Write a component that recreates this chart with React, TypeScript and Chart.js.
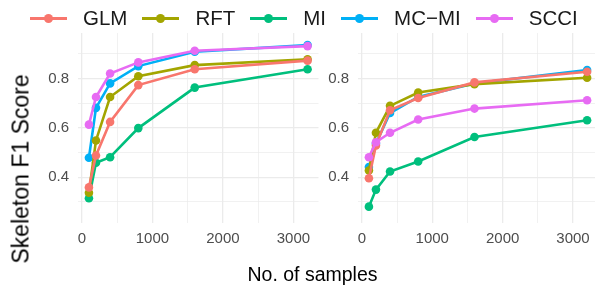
import { useEffect, useRef } from "react";
import { Chart, registerables } from "chart.js";

Chart.register(...registerables);

// ---- data ----
const SAMPLES = [100, 200, 400, 800, 1600, 3200];
const SERIES_NAMES = ["GLM", "RFT", "MI", "MC\u2212MI", "SCCI"];
const SERIES_COLORS = ["#F8766D", "#A3A500", "#00BF7D", "#00B0F6", "#E76BF3"];
// lower order is drawn on top
const DRAW_ORDER = [1, 2, 4, 3, 0];

const LEFT_GLM = [0.359, 0.488, 0.624, 0.773, 0.837, 0.872];
const LEFT_RFT = [0.337, 0.549, 0.725, 0.809, 0.854, 0.878];
const LEFT_MI = [0.315, 0.459, 0.481, 0.599, 0.763, 0.837];
const LEFT_MCMI = [0.479, 0.681, 0.78, 0.85, 0.908, 0.935];
const LEFT_SCCI = [0.613, 0.725, 0.82, 0.865, 0.912, 0.931];

const RIGHT_GLM = [0.396, 0.529, 0.671, 0.721, 0.784, 0.827];
const RIGHT_RFT = [0.427, 0.58, 0.689, 0.743, 0.777, 0.803];
const RIGHT_MI = [0.281, 0.35, 0.423, 0.464, 0.563, 0.631];
const RIGHT_MCMI = [0.441, 0.536, 0.66, 0.725, 0.78, 0.834];
const RIGHT_SCCI = [0.481, 0.542, 0.58, 0.634, 0.678, 0.712];

const LEFT_SERIES = [LEFT_GLM, LEFT_RFT, LEFT_MI, LEFT_MCMI, LEFT_SCCI];
const RIGHT_SERIES = [RIGHT_GLM, RIGHT_RFT, RIGHT_MI, RIGHT_MCMI, RIGHT_SCCI];

// axis ticks (major ticks get labels, the others are minor grid lines)
const X_TICKS = [0, 500, 1000, 1500, 2000, 2500, 3000];
const X_LABELED = ["0", "1000", "2000", "3000"];
const Y_TICKS = [0.3, 0.4, 0.5, 0.6, 0.7, 0.8, 0.9];
const Y_LABELED = ["0.4", "0.6", "0.8"];

const X_MIN = -55;
const X_MAX = 3355;
const Y_MIN = 0.216;
const Y_MAX = 0.984;

const X_TITLE = "No. of samples";
const Y_TITLE = "Skeleton F1 Score";

const FONT = "'Liberation Sans', Arial, Helvetica, sans-serif";
const GRID = "#EBEBEB";
const TICK_COLOR = "#4D4D4D";

const xLabel = (v: number) => {
  const s = String(Math.round(v));
  return X_LABELED.includes(s) ? s : "";
};
const yLabel = (v: number) => {
  const s = (Math.round(v * 10) / 10).toFixed(1);
  return Y_LABELED.includes(s) ? s : "";
};

type PanelProps = {
  series: number[][];
  left: number;
  width: number;
  axisWidth: number;
  areaRight: number;
};

function Panel({ series, left, width, axisWidth, areaRight }: PanelProps) {
  const ref = useRef<HTMLCanvasElement | null>(null);
  useEffect(() => {
    if (!ref.current) return;
    const chart = new Chart(ref.current, {
      type: "line",
      data: {
        datasets: SERIES_NAMES.map((name, i) => ({
          label: name,
          data: SAMPLES.map((x, j) => ({ x, y: series[i][j] })),
          borderColor: SERIES_COLORS[i],
          backgroundColor: SERIES_COLORS[i],
          borderWidth: 2.6,
          pointRadius: 4.3,
          pointBorderWidth: 0,
          pointBackgroundColor: SERIES_COLORS[i],
          tension: 0,
          order: DRAW_ORDER[i],
        })),
      },
      options: {
        animation: false,
        responsive: false,
        devicePixelRatio: 1,
        layout: { padding: { top: 33, right: width - areaRight, left: 0, bottom: 0 } },
        plugins: { legend: { display: false }, tooltip: { enabled: false } },
        scales: {
          x: {
            type: "linear",
            position: "bottom",
            min: X_MIN,
            max: X_MAX,
            border: { display: false },
            grid: {
              color: GRID,
              drawTicks: false,
              lineWidth: (ctx: any) => (ctx.tick && xLabel(ctx.tick.value) !== "" ? 1.3 : 0.7),
            },
            ticks: {
              autoSkip: false,
              padding: 7,
              color: TICK_COLOR,
              font: { family: FONT, size: 15 },
              callback: (v: any) => xLabel(Number(v)),
            },
            afterBuildTicks: (s: any) => {
              s.ticks = X_TICKS.map((value) => ({ value }));
            },
            afterFit: (s: any) => {
              s.height = 62.3;
            },
          },
          y: {
            type: "linear",
            position: "left",
            min: Y_MIN,
            max: Y_MAX,
            border: { display: false },
            grid: {
              color: GRID,
              drawTicks: false,
              lineWidth: (ctx: any) => (ctx.tick && yLabel(ctx.tick.value) !== "" ? 1.3 : 0.7),
            },
            ticks: {
              autoSkip: false,
              padding: 9,
              color: TICK_COLOR,
              font: { family: FONT, size: 15 },
              callback: (v: any) => yLabel(Number(v)),
            },
            afterBuildTicks: (s: any) => {
              s.ticks = Y_TICKS.map((value) => ({ value }));
            },
            afterFit: (s: any) => {
              s.width = axisWidth;
            },
          },
        },
      },
    } as any);
    return () => chart.destroy();
  }, []);
  return (
    <canvas
      ref={ref}
      width={width}
      height={285}
      style={{ position: "absolute", left, top: 0, width, height: 285, display: "block" }}
    />
  );
}

function LegendItem({ name, color }: { name: string; color: string }) {
  return (
    <div style={{ display: "flex", alignItems: "center", marginRight: 15 }}>
      <div style={{ position: "relative", width: 37, height: 10, marginRight: 16 }}>
        <div
          style={{
            position: "absolute",
            left: 0,
            right: 0,
            top: 3.5,
            height: 3,
            background: color,
          }}
        />
        <div
          style={{
            position: "absolute",
            left: 14,
            top: 0.5,
            width: 9,
            height: 9,
            borderRadius: "50%",
            background: color,
          }}
        />
      </div>
      <span style={{ fontSize: 20.5, lineHeight: 1, color: "#1A1A1A" }}>{name}</span>
    </div>
  );
}

export default function App() {
  return (
    <div
      style={{
        position: "fixed",
        left: 0,
        top: 0,
        width: 595,
        height: 285,
        overflow: "hidden",
        background: "#FFFFFF",
        fontFamily: FONT,
      }}
    >
      <Panel series={LEFT_SERIES} left={0} width={325} axisWidth={78} areaRight={318.5} />
      <Panel series={RIGHT_SERIES} left={320} width={285} axisWidth={38} areaRight={278} />
      <div
        style={{
          position: "absolute",
          left: 30,
          top: 8,
          height: 20,
          display: "flex",
          alignItems: "center",
        }}
      >
        {SERIES_NAMES.map((n, i) => (
          <LegendItem key={n} name={n} color={SERIES_COLORS[i]} />
        ))}
      </div>
      <div
        style={{
          position: "absolute",
          left: 312.5,
          top: 275,
          transform: "translate(-50%, -50%)",
          fontSize: 19.5,
          lineHeight: 1,
          whiteSpace: "nowrap",
          color: "#000000",
        }}
      >
        {X_TITLE}
      </div>
      <div
        style={{
          position: "absolute",
          left: 21,
          top: 168.5,
          transform: "translate(-50%, -50%) rotate(-90deg)",
          fontSize: 23,
          lineHeight: 1,
          whiteSpace: "nowrap",
          color: "#000000",
        }}
      >
        {Y_TITLE}
      </div>
    </div>
  );
}
